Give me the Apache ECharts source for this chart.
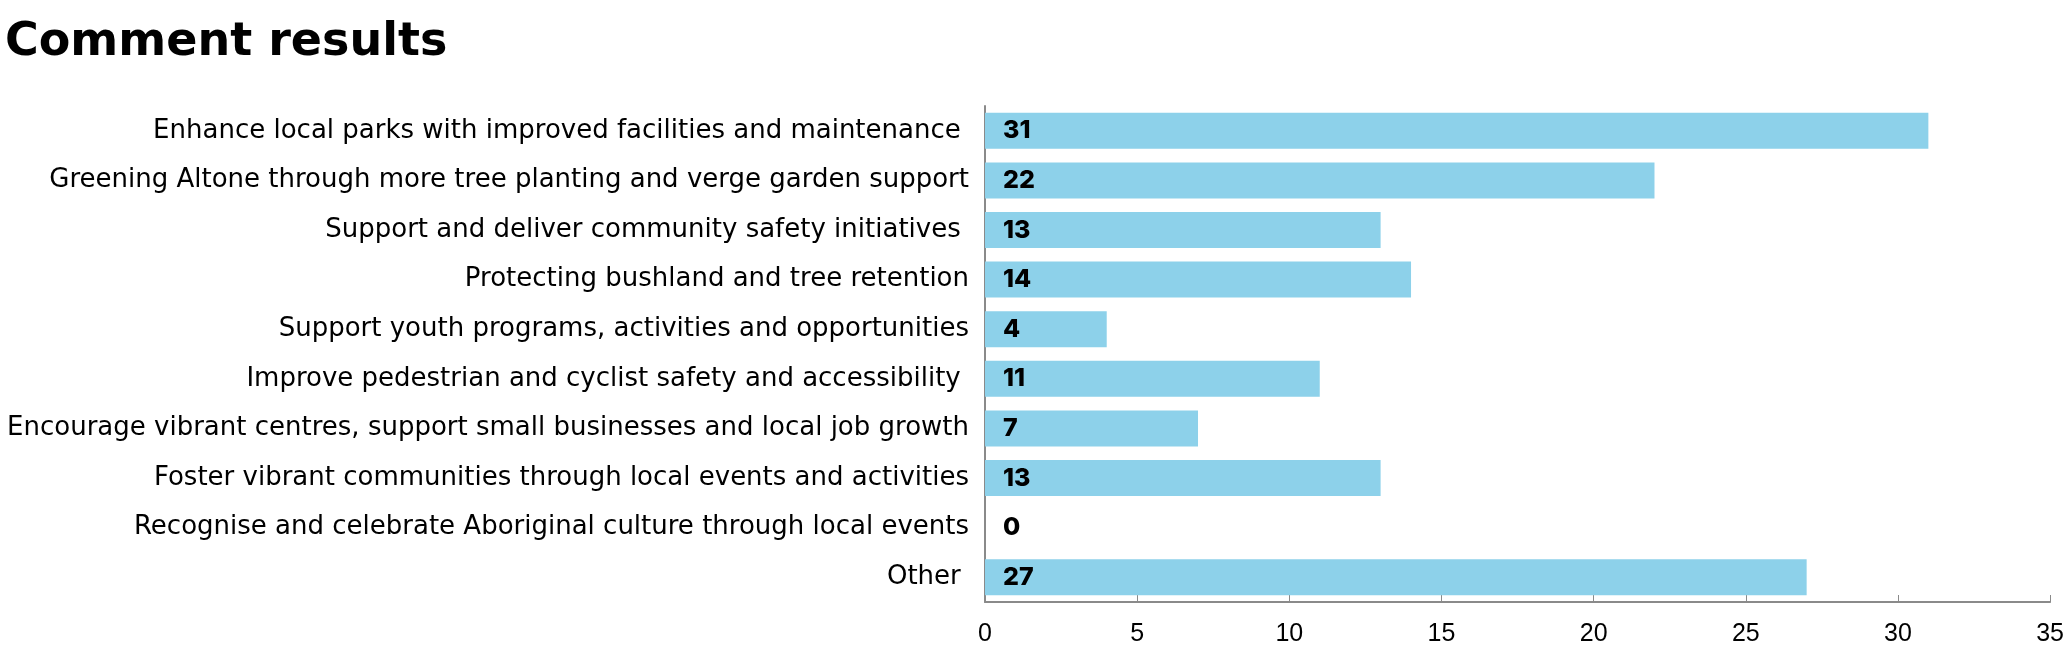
<!DOCTYPE html>
<html>
<head>
<meta charset="utf-8">
<script src="https://cdn.jsdelivr.net/npm/echarts@6/dist/echarts.min.js"></script>
<style>
html,body{margin:0;padding:0;background:#fff;}
#chart{width:2067px;height:652px;}
</style>
</head>
<body>
<div id="chart"></div>
<script>
const categories = [
  "Enhance local parks with improved facilities and maintenance ",
  "Greening Altone through more tree planting and verge garden support",
  "Support and deliver community safety initiatives ",
  "Protecting bushland and tree retention",
  "Support youth programs, activities and opportunities",
  "Improve pedestrian and cyclist safety and accessibility ",
  "Encourage vibrant centres, support small businesses and local job growth",
  "Foster vibrant communities through local events and activities",
  "Recognise and celebrate Aboriginal culture through local events",
  "Other "
];
const values = [31, 22, 13, 14, 4, 11, 7, 13, 0, 27];
const xTicks = [0, 5, 10, 15, 20, 25, 30, 35];

const chart = echarts.init(document.getElementById('chart'));
chart.setOption({
  animation: false,
  title: {
    text: 'Comment results',
    left: 0,
    top: 15,
    textStyle: { fontFamily: 'DejaVu Sans', fontWeight: 'bold', fontSize: 46, color: '#000' }
  },
  grid: { left: 985, right: 16, top: 106, bottom: 50, containLabel: false },
  xAxis: {
    type: 'value',
    min: xTicks[0],
    max: xTicks[xTicks.length - 1],
    interval: 5,
    splitLine: { show: false },
    axisLine: { show: true, lineStyle: { color: '#8a8a8a', width: 2 } },
    axisTick: { show: true, inside: true, length: 7, lineStyle: { color: '#8a8a8a', width: 1 } },
    axisLabel: { fontFamily: 'Liberation Sans', fontSize: 25, color: '#000', margin: 20 }
  },
  yAxis: {
    type: 'category',
    inverse: true,
    data: categories,
    axisLine: { show: true, lineStyle: { color: '#8a8a8a', width: 2 } },
    axisTick: { show: false },
    axisLabel: { fontFamily: 'DejaVu Sans', fontSize: 26, color: '#000', margin: 16 }
  },
  series: [{
    type: 'bar',
    data: values,
    barWidth: 36,
    itemStyle: { color: '#8dd1ea' },
    label: {
      show: true,
      position: 'insideLeft',
      distance: 18,
      fontFamily: 'Inter',
      fontWeight: 800,
      fontSize: 25,
      color: '#000'
    }
  }]
});
</script>
</body>
</html>
